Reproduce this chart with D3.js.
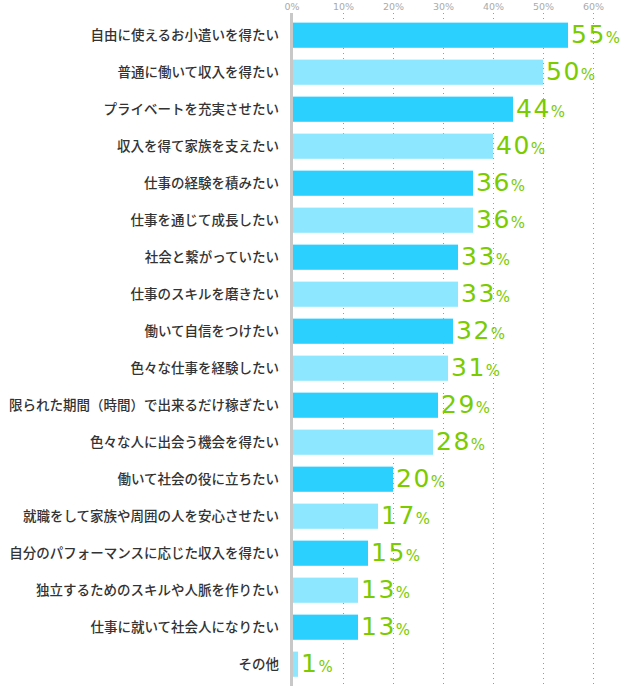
<!DOCTYPE html>
<html lang="ja">
<head>
<meta charset="UTF-8">
<title>働く目的</title>
<script src="https://cdnjs.cloudflare.com/ajax/libs/d3/7.8.5/d3.min.js"></script>
<style>
  body { margin: 0; background: #fff; }
  svg { display: block; }
</style>
</head>
<body>
<div class="chart"></div>
<script>
  const categories = [
    '自由に使えるお小遣いを得たい',
    '普通に働いて収入を得たい',
    'プライベートを充実させたい',
    '収入を得て家族を支えたい',
    '仕事の経験を積みたい',
    '仕事を通じて成長したい',
    '社会と繋がっていたい',
    '仕事のスキルを磨きたい',
    '働いて自信をつけたい',
    '色々な仕事を経験したい',
    '限られた期間（時間）で出来るだけ稼ぎたい',
    '色々な人に出会う機会を得たい',
    '働いて社会の役に立ちたい',
    '就職をして家族や周囲の人を安心させたい',
    '自分のパフォーマンスに応じた収入を得たい',
    '独立するためのスキルや人脈を作りたい',
    '仕事に就いて社会人になりたい',
    'その他'
  ]
  const values = [55, 50, 44, 40, 36, 36, 33, 33, 32, 31, 29, 28, 20, 17, 15, 13, 13, 1]
  const ticks = [0, 10, 20, 30, 40, 50, 60]

  const width = 626
  const height = 686
  const left = 293

  const svg = d3.select('.chart')
    .append('svg')
    .attr('width', width)
    .attr('height', height)

  const x = d3.scaleLinear().domain([0, 60]).range([left, left + 300])
  const y = d3.scaleBand().domain(categories).range([16.7, 682.7]).paddingInner(0.32).paddingOuter(0.16)

  // gridlines
  svg.append('g')
    .selectAll('line')
    .data(ticks.slice(1))
    .join('line')
    .attr('x1', d => x(d) + 0.5)
    .attr('x2', d => x(d) + 0.5)
    .attr('y1', 13)
    .attr('y2', height)
    .attr('stroke', '#999')
    .attr('stroke-width', 1)
    .attr('stroke-dasharray', '1 4')

  // top tick labels
  svg.append('g')
    .selectAll('text')
    .data(ticks)
    .join('text')
    .attr('x', d => x(d) + (d === 0 ? -1 : 0.5))
    .attr('y', 10)
    .attr('text-anchor', 'middle')
    .attr('font-family', 'DejaVu Sans, sans-serif')
    .attr('font-size', 9.5)
    .attr('fill', '#aaa')
    .text(d => d + '%')

  // bars
  svg.append('g')
    .selectAll('rect')
    .data(values)
    .join('rect')
    .attr('x', x(0))
    .attr('y', (d, i) => y(categories[i]))
    .attr('width', d => x(d) - x(0))
    .attr('height', y.bandwidth())
    .attr('fill', (d, i) => i % 2 === 0 ? '#2bd0ff' : '#8de7ff')

  // axis line
  svg.append('line')
    .attr('x1', left - 1.5)
    .attr('x2', left - 1.5)
    .attr('y1', 13)
    .attr('y2', height)
    .attr('stroke', '#c8c8c8')
    .attr('stroke-width', 3)

  // category labels
  svg.append('g')
    .selectAll('text')
    .data(categories)
    .join('text')
    .attr('x', 279)
    .attr('y', d => y(d) + y.bandwidth() / 2)
    .attr('dy', '0.36em')
    .attr('text-anchor', 'end')
    .attr('font-family', 'Noto Sans CJK JP, sans-serif')
    .attr('font-size', 13.5)
    .attr('font-weight', 500)
    .attr('fill', '#333')
    .text(d => d)

  // value labels
  const vl = svg.append('g')
    .selectAll('text')
    .data(values)
    .join('text')
    .attr('x', d => x(d) + 3)
    .attr('y', (d, i) => y(categories[i]) + y.bandwidth() / 2 + 8)
    .attr('font-family', 'DejaVu Sans, sans-serif')
    .attr('fill', '#7acb00')
  vl.append('tspan').attr('font-size', 25).attr('letter-spacing', 1.5).text(d => d)
  vl.append('tspan').attr('font-size', 15).text('%')
</script>
</body>
</html>
